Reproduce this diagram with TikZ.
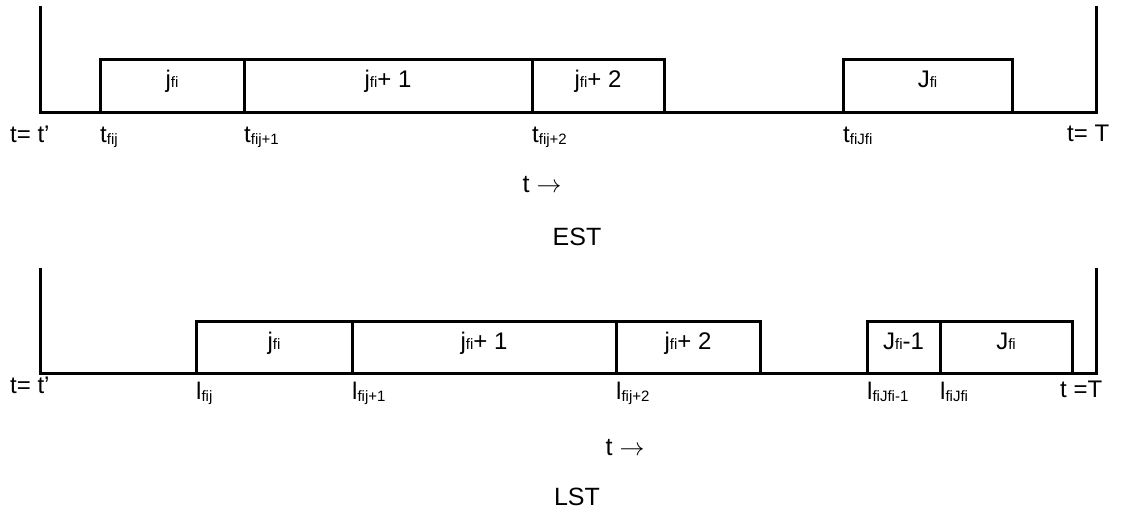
\documentclass[tikz,border=0pt]{standalone}
\usepackage{fontspec}
\setmainfont{Liberation Sans}
\newcommand{\sbs}[1]{\raisebox{-2.5pt}{\fontsize{15}{15}\selectfont #1}}
\newcommand{\sbj}[1]{{\fontsize{15}{15}\selectfont #1}}
\begin{document}
\begin{tikzpicture}[x=1pt,y=-1pt,
  axis/.style={line width=3pt, line cap=rect},
  job/.style={draw, line width=3pt, inner sep=0pt, outer sep=0pt,
    minimum height=52pt, anchor=south west},
  boxtext/.style={anchor=base, inner sep=0pt, font=\fontsize{24}{24}\selectfont},
  tick/.style={anchor=base west, inner sep=0pt, font=\fontsize{24}{24}\selectfont},
  caption/.style={anchor=base, inner sep=0pt, font=\fontsize{25}{25}\selectfont}]
\useasboundingbox (0,0) rectangle (1138,511);

% ---------- earliest start times ----------
\coordinate (e0) at (40,8);
\coordinate (eL) at (40,112);
\coordinate (eR) at (1096,112);
\coordinate (e1) at (1096,8);
\draw[axis] (e0) -- (eL) -- (eR) -- (e1);

\node[job, minimum width=144pt] (ea) at (100,112) {};
\node[job, minimum width=288pt] (eb) at (244,112) {};
\node[job, minimum width=132pt] (ec) at (532,112) {};
\node[job, minimum width=169pt] (ed) at (843,112) {};

\node[boxtext] (eat) at ([yshift=24pt]ea.south) {j\sbj{fi}};
\node[boxtext] (ebt) at ([yshift=24pt]eb.south) {j\sbj{fi}+ 1};
\node[boxtext] (ect) at ([yshift=24pt]ec.south) {j\sbj{fi}+ 2};
\node[boxtext] (edt) at ([yshift=24pt]ed.south) {J\sbj{fi}};

\node[tick] (es) at (10,142) {t= t’};
\node[tick] (ta) at ([yshift=-30pt]ea.south west) {t\sbs{fij}};
\node[tick] (tb) at ([yshift=-30pt]eb.south west) {t\sbs{fij+1}};
\node[tick] (tc) at ([yshift=-30pt]ec.south west) {t\sbs{fij+2}};
\node[tick] (td) at ([yshift=-30pt]ed.south west) {t\sbs{fiJfi}};
\node[tick] (ee) at (1067,141) {t= T};

\node[caption] (et) at (542,192) {t $\rightarrow$};
\node[caption] (est) at (577,245) {EST};

% ---------- latest start times ----------
\coordinate (l0) at (40,269);
\coordinate (lL) at (40,373);
\coordinate (lR) at (1096,373);
\coordinate (l1) at (1096,269);
\draw[axis] (l0) -- (lL) -- (lR) -- (l1);

\node[job, minimum width=156pt] (la) at (196,373) {};
\node[job, minimum width=264pt] (lb) at (352,373) {};
\node[job, minimum width=144pt] (lc) at (616,373) {};
\node[job, minimum width=73pt] (ld) at (867,373) {};
\node[job, minimum width=132pt] (le) at (940,373) {};

\node[boxtext] (lat) at ([yshift=24pt]la.south) {j\sbj{fi}};
\node[boxtext] (lbt) at ([yshift=24pt]lb.south) {j\sbj{fi}+ 1};
\node[boxtext] (lct) at ([yshift=24pt]lc.south) {j\sbj{fi}+ 2};
\node[boxtext] (ldt) at ([yshift=24pt]ld.south) {J\sbj{fi}-1};
\node[boxtext] (let) at ([yshift=24pt]le.south) {J\sbj{fi}};

\node[tick] (ls) at (10,393) {t= t’};
\node[tick] (ua) at ([yshift=-26pt]la.south west) {l\sbs{fij}};
\node[tick] (ub) at ([yshift=-26pt]lb.south west) {l\sbs{fij+1}};
\node[tick] (uc) at ([yshift=-26pt]lc.south west) {l\sbs{fij+2}};
\node[tick] (ud) at ([yshift=-26pt]ld.south west) {l\sbs{fiJfi-1}};
\node[tick] (ue) at ([yshift=-26pt]le.south west) {l\sbs{fiJfi}};
\node[tick] (le2) at (1060,397) {t =T};

\node[caption] (lt) at (625,455) {t $\rightarrow$};
\node[caption] (lst) at (577,505) {LST};
\end{tikzpicture}
\end{document}
